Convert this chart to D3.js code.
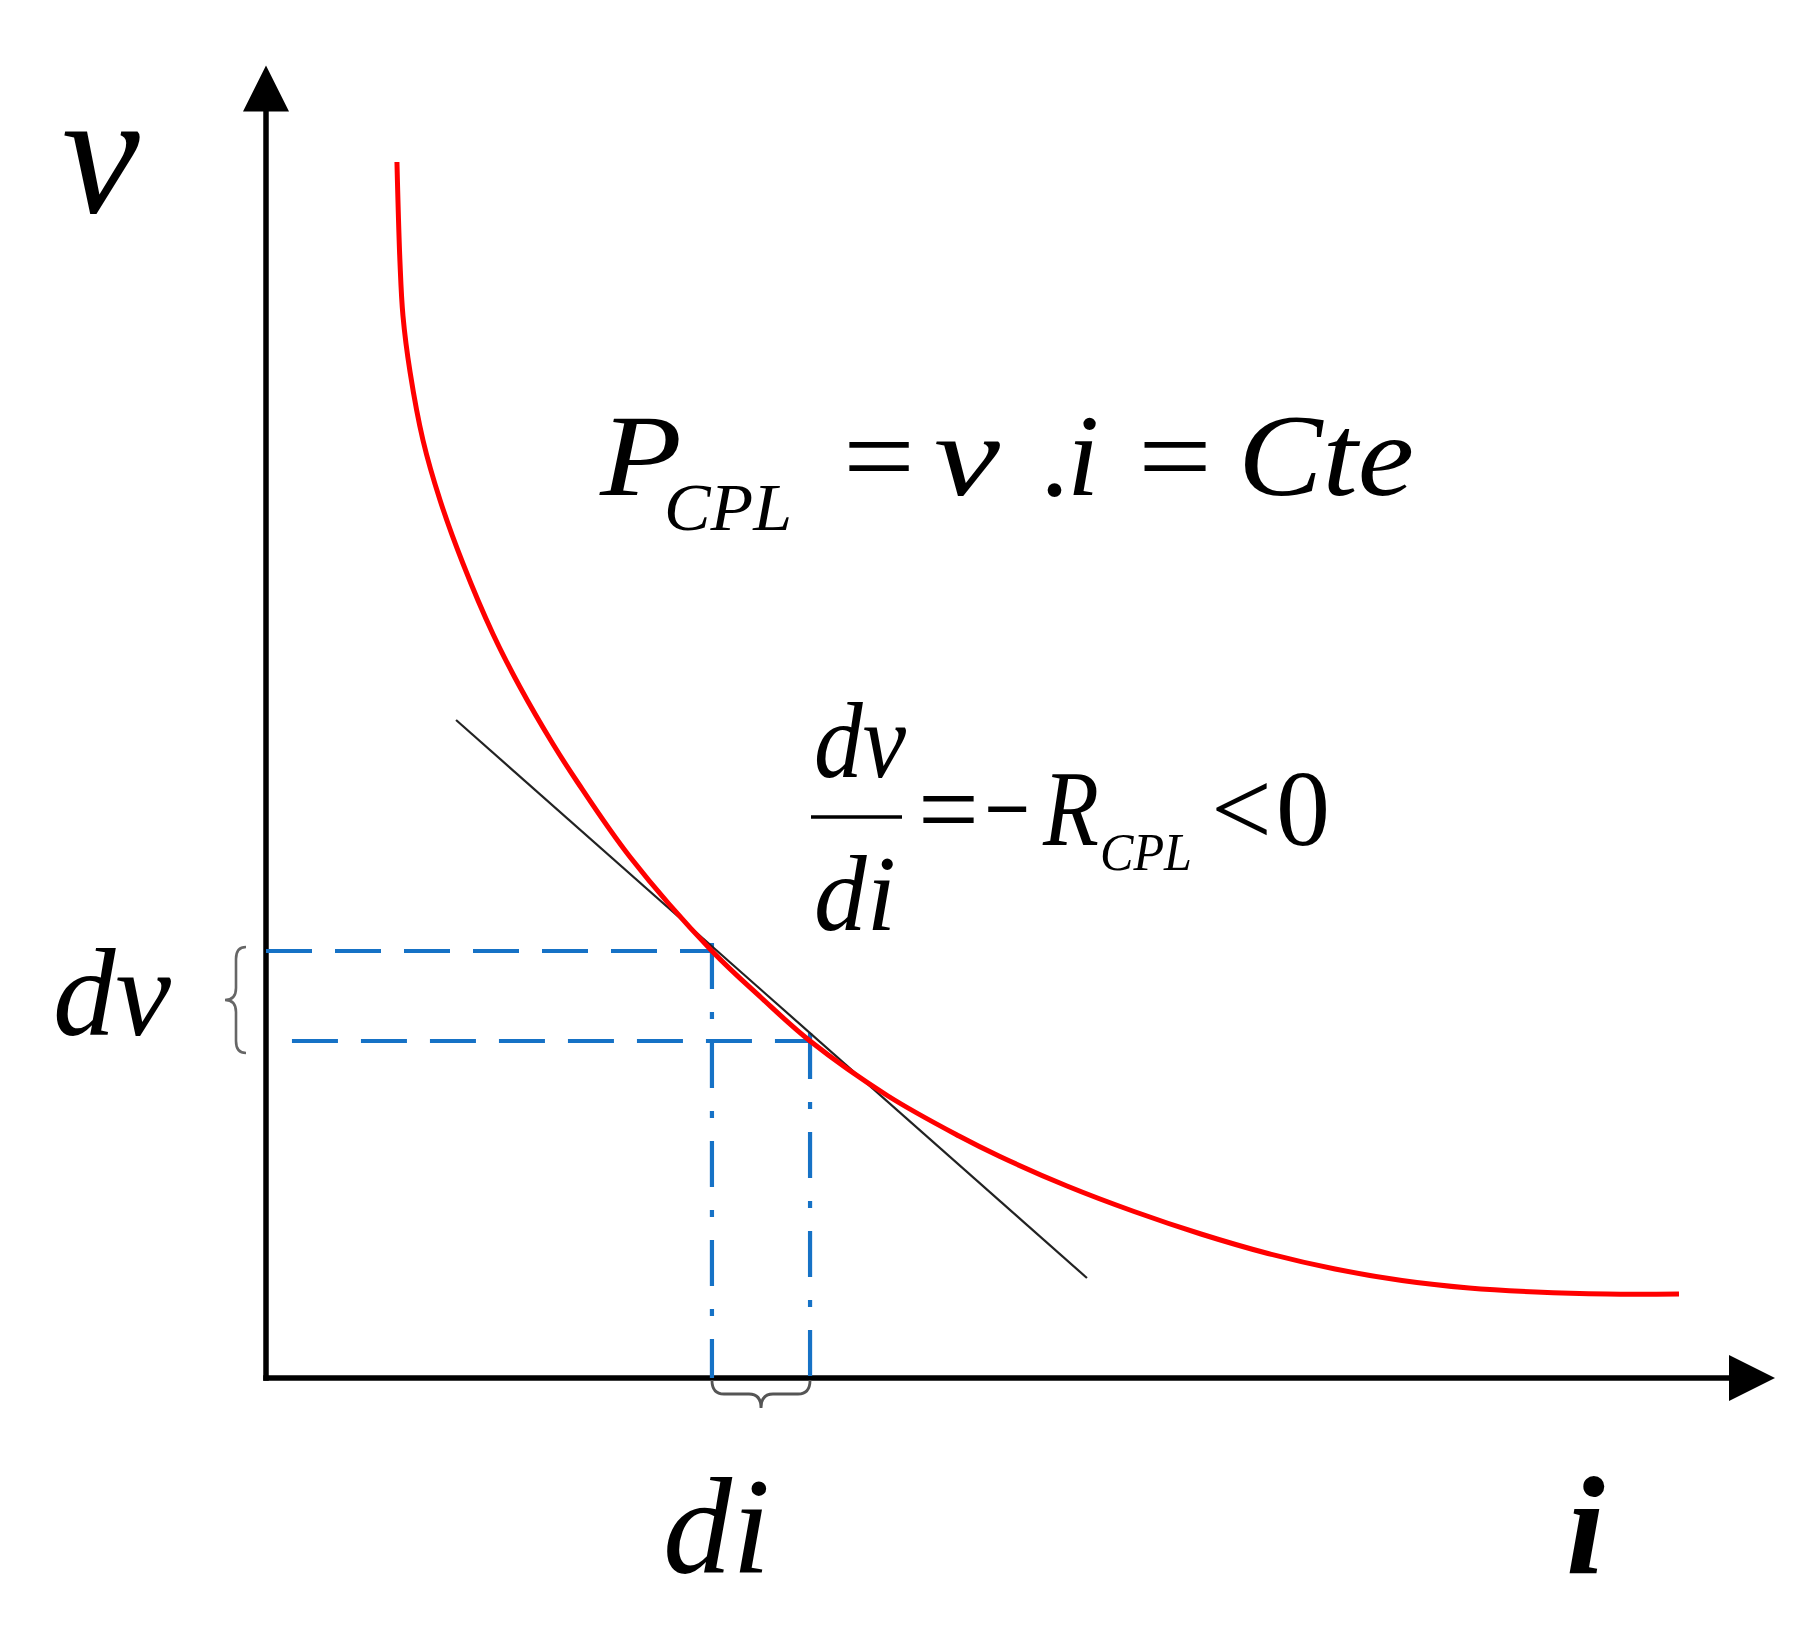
<!DOCTYPE html>
<html><head><meta charset="utf-8">
<script src="https://cdn.jsdelivr.net/npm/d3@7"></script>
<style>html,body{margin:0;padding:0;background:#fff;} svg{display:block}</style>
</head><body>
<svg id="chart" width="1801" height="1626"></svg>
<script>
// ---- data (arbitrary units: i = current, v = voltage) ----
const curveI = [0.873,0.893,0.913,0.96,1.047,1.16,1.313,1.513,1.693,1.913,2.067,2.427,2.973,3.3,3.627,4.147,4.62,4.893,5.34,5.787,6.233,6.68,7.127,7.573,8.02,8.467,8.94,9.42];
const curveV = [9.728,8.931,8.499,8.051,7.5,7.024,6.516,5.952,5.528,5.072,4.784,4.168,3.416,3.044,2.696,2.256,1.936,1.772,1.536,1.332,1.152,0.996,0.872,0.78,0.72,0.688,0.672,0.672];
const tangentI = [1.267, 5.473];
const tangentV = [5.264, 0.8];
const pointI = [2.973, 3.627];       // operating points (di)
const pointV = [3.416, 2.696];       // operating points (dv)
const dashStartI = [0, 0.173];       // where the horizontal dashed guides start
const axisMaxI = 10.06, axisMaxV = 10.5;

const svg = d3.select('#chart');
const x = d3.scaleLinear().domain([0,10]).range([266,1766]);
const y = d3.scaleLinear().domain([0,10]).range([1378,128]);

const serif = '"Liberation Serif","Times New Roman",Times,serif';
const blue = '#1672c6';

// ---- axes with arrowheads ----
const arrowLen = 46, arrowHalf = 23;
svg.append('line').attr('x1', x(0)).attr('y1', y(0)).attr('x2', x(0)).attr('y2', y(axisMaxV) + arrowLen - 2)
  .attr('stroke', '#000').attr('stroke-width', 5.5).attr('stroke-linecap', 'square');
svg.append('line').attr('x1', x(0)).attr('y1', y(0)).attr('x2', x(axisMaxI) - arrowLen + 2).attr('y2', y(0))
  .attr('stroke', '#000').attr('stroke-width', 5.5).attr('stroke-linecap', 'square');
svg.append('path').attr('d', `M${x(0)},${y(axisMaxV)} L${x(0)-arrowHalf},${y(axisMaxV)+arrowLen} L${x(0)+arrowHalf},${y(axisMaxV)+arrowLen} Z`).attr('fill', '#000');
svg.append('path').attr('d', `M${x(axisMaxI)},${y(0)} L${x(axisMaxI)-arrowLen},${y(0)-arrowHalf} L${x(axisMaxI)-arrowLen},${y(0)+arrowHalf} Z`).attr('fill', '#000');

// ---- blue guides ----
pointI.forEach((pi, k) => {
  svg.append('line').attr('x1', x(dashStartI[k])).attr('y1', y(pointV[k])).attr('x2', x(pi)).attr('y2', y(pointV[k]))
    .attr('stroke', blue).attr('stroke-width', 4.2).attr('stroke-dasharray', '46,23');
  svg.append('line').attr('x1', x(pi)).attr('y1', y(pointV[k]) - 8).attr('x2', x(pi)).attr('y2', y(0))
    .attr('stroke', blue).attr('stroke-width', 4.2).attr('stroke-dasharray', '46,23,7,23');
});

// ---- tangent line ----
svg.append('line').attr('x1', x(tangentI[0])).attr('y1', y(tangentV[0])).attr('x2', x(tangentI[1])).attr('y2', y(tangentV[1]))
  .attr('stroke', '#222').attr('stroke-width', 2.2);

// ---- constant-power curve ----
const pts = curveI.map((d, k) => [d, curveV[k]]);
svg.append('path').datum(pts)
  .attr('d', d3.line().x(d => x(d[0])).y(d => y(d[1])).curve(d3.curveCatmullRom.alpha(0.5)))
  .attr('fill', 'none').attr('stroke', '#ff0000').attr('stroke-width', 5);

// ---- braces ----
{
  const xa = x(pointI[0]), xb = x(pointI[1]), y0 = y(0) + 2, dep = 28, q = 12, mid = (xa + xb) / 2;
  svg.append('path').attr('d',
    `M${xa},${y0} Q${xa},${y0+dep/2} ${xa+q},${y0+dep/2} L${mid-q},${y0+dep/2} Q${mid},${y0+dep/2} ${mid},${y0+dep} ` +
    `Q${mid},${y0+dep/2} ${mid+q},${y0+dep/2} L${xb-q},${y0+dep/2} Q${xb},${y0+dep/2} ${xb},${y0}`)
    .attr('fill', 'none').attr('stroke', '#555').attr('stroke-width', 2.8);
}
{
  const ya = y(pointV[0]) - 4, yb = y(pointV[1]) + 12, xr = x(0) - 20, xm = xr - 10, xt = xr - 21, q = 12, mid = (ya + yb) / 2;
  svg.append('path').attr('d',
    `M${xr},${ya} Q${xm},${ya} ${xm},${ya+q} L${xm},${mid-q} Q${xm},${mid} ${xt},${mid} ` +
    `Q${xm},${mid} ${xm},${mid+q} L${xm},${yb-q} Q${xm},${yb} ${xr},${yb}`)
    .attr('fill', 'none').attr('stroke', '#666').attr('stroke-width', 2.6);
}

// ---- text ----
function txt(xp, yp, s, size, italic, extra) {
  extra = extra || {};
  const t = svg.append('text').attr('x', xp).attr('y', yp).text(s)
    .attr('font-family', serif).attr('font-size', size).attr('fill', '#000')
    .attr('font-style', italic ? 'italic' : 'normal');
  if (extra.len) t.attr('textLength', extra.len).attr('lengthAdjust', 'spacingAndGlyphs');
  if (extra.bold) t.attr('font-weight', 'bold');
  return t;
}
// axis labels
txt(62, 212, 'v', 175, true);
txt(1566, 1573, 'i', 140, true, {bold: true});
txt(663, 1573, 'di', 138, true);
txt(53, 1035, 'dv', 125, true);

// P_CPL = v . i = Cte
txt(600, 495, 'P', 116, true, {len: 82});
txt(664, 530, 'CPL', 68, true, {len: 128});
txt(843, 495, '=', 116, false, {len: 72});
txt(934, 495, 'v', 116, true, {len: 66});
txt(1040, 495, '.', 116, false);
txt(1067, 495, 'i', 116, true);
txt(1138, 495, '=', 116, false, {len: 74});
txt(1238, 495, 'Cte', 116, true, {len: 176});

// dv/di = -R_CPL < 0
txt(814, 777, 'dv', 108, true, {len: 92});
svg.append('line').attr('x1', 811).attr('x2', 902).attr('y1', 817).attr('y2', 817).attr('stroke', '#000').attr('stroke-width', 3.5);
txt(814, 930, 'di', 108, true, {len: 82});
txt(918, 845, '=', 108, false);
txt(984, 845, '\u2212', 108, false, {len: 46});
txt(1043, 845, 'R', 108, true, {len: 56});
txt(1100, 870, 'CPL', 52, true, {len: 92});
txt(1211, 845, '<', 108, false);
txt(1276, 845, '0', 108, false);
</script>
</body></html>
